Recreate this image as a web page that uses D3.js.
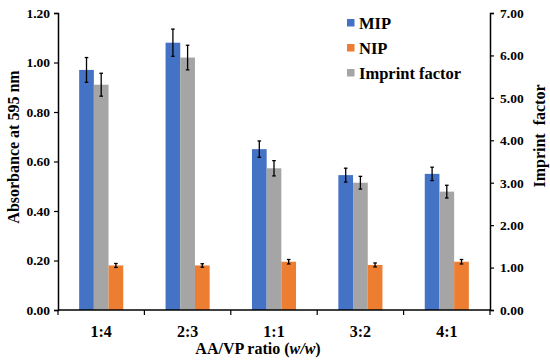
<!DOCTYPE html>
<html>
<head>
<meta charset="utf-8">
<script src="https://cdn.jsdelivr.net/npm/d3@7"></script>
<style>
  body { margin: 0; background: #fff; }
  text { font-family: "Liberation Serif", "Times New Roman", serif; font-weight: bold; fill: #000; }
</style>
</head>
<body>
<script>
// data
const categories = ["1:4", "2:3", "1:1", "3:2", "4:1"];
const mip = [0.97, 1.08, 0.65, 0.545, 0.55];
const mipErr = [0.05, 0.055, 0.033, 0.028, 0.027];
const nip = [0.18, 0.18, 0.195, 0.182, 0.195];
const nipErr = [0.008, 0.007, 0.009, 0.008, 0.009];
const imprint = [5.31, 5.95, 3.34, 3.0, 2.79];   // right axis
const imprintErr = [0.27, 0.29, 0.18, 0.15, 0.15];
const leftTicks = [0, 0.2, 0.4, 0.6, 0.8, 1.0, 1.2];
const rightTicks = [0, 1, 2, 3, 4, 5, 6, 7];

const width = 550, height = 361;
const margin = { left: 58, right: 60, top: 13, bottom: 51 };

const svg = d3.select("body").append("svg")
  .attr("width", width)
  .attr("height", height);

const x = d3.scaleBand()
  .domain(categories)
  .range([margin.left, width - margin.right]);

const inner = d3.scaleBand()
  .domain(["mip", "imp", "nip"])
  .range([0, x.bandwidth()])
  .paddingInner(0)
  .paddingOuter(1.44);

const yL = d3.scaleLinear().domain([0, 1.2]).range([height - margin.bottom, margin.top]);
const yR = d3.scaleLinear().domain([0, 7]).range([height - margin.bottom, margin.top]);

const colors = { mip: "#4472C4", nip: "#ED7D31", imp: "#A5A5A5" };

// bars
const series = [
  { key: "mip", vals: mip, err: mipErr, y: yL },
  { key: "imp", vals: imprint, err: imprintErr, y: yR },
  { key: "nip", vals: nip, err: nipErr, y: yL }
];

series.forEach(s => {
  const g = svg.append("g");
  g.selectAll("rect")
    .data(s.vals)
    .enter()
    .append("rect")
    .attr("x", (d, i) => x(categories[i]) + inner(s.key))
    .attr("width", inner.bandwidth())
    .attr("y", d => s.y(d))
    .attr("height", d => s.y(0) - s.y(d))
    .attr("fill", colors[s.key]);

  // error bars
  const eb = g.selectAll(".err")
    .data(s.vals)
    .enter()
    .append("g")
    .attr("stroke", "#000")
    .attr("stroke-width", 1.3);
  const cx = i => x(categories[i]) + inner(s.key) + inner.bandwidth() / 2;
  eb.append("line")
    .attr("x1", (d, i) => cx(i)).attr("x2", (d, i) => cx(i))
    .attr("y1", (d, i) => s.y(d + s.err[i])).attr("y2", (d, i) => s.y(d - s.err[i]));
  eb.append("line")
    .attr("x1", (d, i) => cx(i) - 1.8).attr("x2", (d, i) => cx(i) + 1.8)
    .attr("y1", (d, i) => s.y(d + s.err[i])).attr("y2", (d, i) => s.y(d + s.err[i]));
  eb.append("line")
    .attr("x1", (d, i) => cx(i) - 1.8).attr("x2", (d, i) => cx(i) + 1.8)
    .attr("y1", (d, i) => s.y(d - s.err[i])).attr("y2", (d, i) => s.y(d - s.err[i]));
});

// left axis
const leftAxis = svg.append("g")
  .attr("transform", `translate(${margin.left},0)`)
  .call(d3.axisLeft(yL).tickValues(leftTicks).tickFormat(d3.format(".2f")).tickSize(4).tickPadding(4));
leftAxis.selectAll("text").style("font-size", "13.5px");

// right axis
const rightAxis = svg.append("g")
  .attr("transform", `translate(${width - margin.right},0)`)
  .call(d3.axisRight(yR).tickValues(rightTicks).tickFormat(d3.format(".2f")).tickSize(4).tickPadding(6));
rightAxis.selectAll("text").style("font-size", "13.5px");

// bottom axis: ticks between categories
const xBase = height - margin.bottom;
svg.append("line")
  .attr("x1", margin.left).attr("x2", width - margin.right)
  .attr("y1", xBase).attr("y2", xBase)
  .attr("stroke", "#000").attr("stroke-width", 1.5);
const bounds = categories.map(c => x(c)).concat([x.range()[1]]);
svg.selectAll(".xtick")
  .data(bounds)
  .enter()
  .append("line")
  .attr("x1", d => d).attr("x2", d => d)
  .attr("y1", xBase).attr("y2", xBase + 5)
  .attr("stroke", "#000").attr("stroke-width", 1.2);
svg.selectAll(".xlab")
  .data(categories)
  .enter()
  .append("text")
  .attr("x", d => x(d) + x.bandwidth() / 2)
  .attr("y", 337)
  .attr("text-anchor", "middle")
  .style("font-size", "16px")
  .text(d => d);

svg.selectAll(".domain").attr("stroke-width", 1.5);
svg.selectAll(".tick line").attr("stroke-width", 1.2);

// axis titles
svg.append("text")
  .attr("x", 258).attr("y", 354)
  .attr("text-anchor", "middle")
  .style("font-size", "16px")
  .html('AA/VP ratio (<tspan font-style="italic">w/w</tspan>)');

svg.append("text")
  .attr("transform", "translate(19,147) rotate(-90)")
  .attr("text-anchor", "middle")
  .style("font-size", "16px")
  .text("Absorbance at 595 nm");

svg.append("text")
  .attr("transform", "translate(545,136) rotate(-90)")
  .attr("text-anchor", "middle")
  .style("font-size", "16px")
  .style("white-space", "pre")
  .text("Imprint  factor");

// legend
const legendItems = [
  { label: "MIP", color: colors.mip },
  { label: "NIP", color: colors.nip },
  { label: "Imprint factor", color: colors.imp }
];
const legend = svg.append("g")
  .selectAll("g")
  .data(legendItems)
  .enter()
  .append("g")
  .attr("transform", (d, i) => `translate(347,${23 + i * 25})`);
legend.append("rect")
  .attr("x", 0).attr("y", -4)
  .attr("width", 7.5).attr("height", 7.5)
  .attr("fill", d => d.color);
legend.append("text")
  .attr("x", 12).attr("y", 5.5)
  .style("font-size", "16.5px")
  .text(d => d.label);
</script>
</body>
</html>
